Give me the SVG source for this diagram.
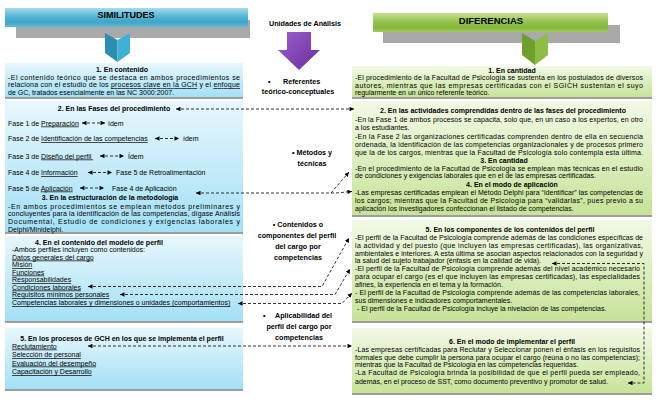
<svg xmlns="http://www.w3.org/2000/svg" width="657" height="402" viewBox="0 0 657 402">
<style>
.t{font-family:"Liberation Sans",Arial,sans-serif;font-size:7px;fill:#000}
.b{font-weight:bold}
.m{text-anchor:middle}
.u{text-decoration:underline}
.lb{font-size:7.2px}
.c{fill:none;stroke:#000;stroke-width:0.8;stroke-dasharray:3 2}
.sh{fill:#9d9d9d}
.bl{fill:url(#gBlue)}
.gr{fill:url(#gGreen)}
</style>
<defs>
<linearGradient id="gBlue" x1="0" y1="0" x2="0" y2="1"><stop offset="0" stop-color="#e8f7fc"/><stop offset="1" stop-color="#a3e0f6"/></linearGradient>
<linearGradient id="gGreen" x1="0" y1="0" x2="0" y2="1"><stop offset="0" stop-color="#f2f9e6"/><stop offset="1" stop-color="#c7e398"/></linearGradient>
<linearGradient id="gHdrB" x1="0" y1="0" x2="0" y2="1"><stop offset="0" stop-color="#a6dcec"/><stop offset="0.45" stop-color="#56b5d4"/><stop offset="0.75" stop-color="#40a5c7"/><stop offset="1" stop-color="#62bbd7"/></linearGradient>
<linearGradient id="gHdrG" x1="0" y1="0" x2="0" y2="1"><stop offset="0" stop-color="#c6e092"/><stop offset="0.45" stop-color="#96c44e"/><stop offset="0.75" stop-color="#86b73c"/><stop offset="1" stop-color="#a3cb60"/></linearGradient>
<linearGradient id="gPur" x1="0" y1="0" x2="1" y2="1"><stop offset="0" stop-color="#9c5ed0"/><stop offset="1" stop-color="#6a2d98"/></linearGradient>
<marker id="ah" viewBox="0 0 10 10" refX="10" refY="5" markerWidth="5" markerHeight="4.5" markerUnits="userSpaceOnUse" orient="auto-start-reverse"><path d="M0,0 L10,5 L0,10 z" fill="#000" stroke="none"/></marker>
</defs>
<rect width="657" height="402" fill="#fff"/>

<g id="sim-header">
<rect x="16" y="20" width="234" height="18" fill="#a9a9a9"/>
<rect x="5" y="8" width="243" height="19" fill="url(#gHdrB)"/>
<text class="t b m" x="126" y="18.3" style="font-size:9px">SIMILITUDES</text>
<polygon points="105,33 117.5,40 117.5,62 105,53" fill="#2b8db0"/>
<polygon points="117.5,40 130,33 130,53 117.5,62" fill="#3fb0d6"/>
</g>

<g id="dif-header">
<rect x="383" y="25" width="237" height="18" fill="#a9a9a9"/>
<rect x="373" y="13" width="235" height="19" fill="url(#gHdrG)"/>
<text class="t b m" x="491" y="23.5" style="font-size:9.5px">DIFERENCIAS</text>
<polygon points="522,33 535,41 535,65 522,55" fill="#6f9f2d"/>
<polygon points="535,41 548,33 548,55 535,65" fill="#8cbd45"/>
</g>

<g id="unidades">
<text class="t b m" x="305" y="25.6" style="font-size:7.2px">Unidades de Análisis</text>
<polygon points="287,32 311,32 311,50 320,50 299,70 278,50 287,50" fill="url(#gPur)"/>
</g>

<g id="label-referentes">
<text class="t b lb" x="268" y="83.5">•</text>
<text class="t b lb" x="283" y="83.5">Referentes</text>
<text class="t b m lb" x="298" y="93.5">teórico-conceptuales</text>
</g>
<g id="label-metodos">
<text class="t b m lb" x="312" y="155">• Métodos y</text>
<text class="t b m lb" x="312" y="165.5">técnicas</text>
</g>
<g id="label-contenidos">
<text class="t b m lb" x="298" y="227">• Contenidos o</text>
<text class="t b m lb" x="297" y="238">componentes del perfil</text>
<text class="t b m lb" x="298" y="249">del cargo por</text>
<text class="t b m lb" x="298" y="260">competencias</text>
</g>
<g id="label-aplicabilidad">
<text class="t b lb" x="263" y="317.5">•</text>
<text class="t b lb" x="275" y="317.5">Aplicabilidad del</text>
<text class="t b m lb" x="299" y="328.5">perfil del cargo por</text>
<text class="t b m lb" x="299" y="339.5">competencias</text>
</g>

<g id="box-l1">
<rect x="5" y="63" width="238" height="34" class="bl"/>
<rect x="5" y="97" width="238" height="2" class="sh"/>
<text class="t b m" x="122" y="71.5">1. En contenido</text>
<text class="t" x="8" y="79.5" textLength="232" lengthAdjust="spacing">-El contenido teórico que se destaca en ambos procedimientos se</text>
<text class="t" x="8" y="87" textLength="232" lengthAdjust="spacing">relaciona con el estudio de los <tspan class="u">procesos clave en la GCH</tspan> y el <tspan class="u">enfoque</tspan></text>
<text class="t" x="8" y="94.5">de GC, tratados esencialmente en las NC 3000:2007.</text>
</g>

<g id="box-l2">
<rect x="5" y="101" width="238" height="131" class="bl"/>
<rect x="5" y="232" width="238" height="2" class="sh"/>
<text class="t b m" x="114" y="111">2. En las Fases del procedimiento</text>
<text class="t" x="8" y="125.5">Fase 1 de <tspan class="u">Preparación</tspan></text>
<text class="t" x="108" y="125.5">ídem</text>
<text class="t" x="8" y="141">Fase 2 de <tspan class="u">Identificación de las competencias</tspan></text>
<text class="t" x="183" y="141">ídem</text>
<text class="t" x="8" y="158.5" style="white-space:pre">Fase 3 de <tspan class="u">Diseño del perfil </tspan></text>
<text class="t" x="128" y="158.5">Ídem</text>
<text class="t" x="8" y="175">Fase 4 de <tspan class="u">Información</tspan></text>
<text class="t" x="116" y="175">Fase 5 de Retroalimentación</text>
<text class="t" x="8" y="190.5">Fase 5 de <tspan class="u">Aplicación</tspan></text>
<text class="t" x="112" y="190.5">Fase 4 de Aplicación</text>
<text class="t b m" x="110" y="199.5">3. En la estructuración de la metodología</text>
<text class="t" x="8" y="208.5" textLength="232" lengthAdjust="spacing">-En ambos procedimientos se emplean métodos preliminares y</text>
<text class="t" x="8" y="216" textLength="232" lengthAdjust="spacing">concluyentes para la identificación de las competencias, dígase Análisis</text>
<text class="t" x="8" y="224" textLength="232" lengthAdjust="spacing">Documental, Estudio de condiciones y exigencias laborales y</text>
<text class="t" x="8" y="231.5">Delphi/Minidelphi.</text>
</g>

<g id="box-l3">
<rect x="5" y="236" width="238" height="85" class="bl"/>
<rect x="5" y="321" width="238" height="2" class="sh"/>
<text class="t b m" x="99" y="244.5">4. En el contenido del modelo de perfil</text>
<text class="t" x="12" y="252">-Ambos perfiles incluyen como contenidos:</text>
<text class="t u" x="12" y="259.5">Datos generales del cargo</text>
<text class="t u" x="12" y="267">Misión</text>
<text class="t u" x="12" y="274.5">Funciones</text>
<text class="t u" x="12" y="282">Responsabilidades</text>
<text class="t u" x="12" y="289.5">Condiciones laborales</text>
<text class="t u" x="12" y="297">Requisitos mínimos personales</text>
<text class="t u" x="12" y="305">Competencias laborales y dimensiones o unidades (comportamientos)</text>
</g>

<g id="box-l4">
<rect x="5" y="328" width="238" height="61" class="bl"/>
<rect x="5" y="389" width="238" height="2" class="sh"/>
<text class="t b m" x="122" y="340.5">5. En los procesos de GCH en los que se implementa el perfil</text>
<text class="t u" x="12" y="348.5">Reclutamiento</text>
<text class="t u" x="12" y="357">Selección de personal</text>
<text class="t u" x="12" y="365.5">Evaluación del desempeño</text>
<text class="t u" x="12" y="374">Capacitación y Desarrollo</text>
</g>

<g id="box-r1">
<rect x="352" y="66" width="300" height="31" class="gr"/>
<rect x="352" y="97" width="300" height="2" class="sh"/>
<text class="t b m" x="512" y="73">1. En cantidad</text>
<text class="t" x="355" y="80" textLength="288" lengthAdjust="spacing">-El procedimiento de la Facultad de Psicología se sustenta en los postulados de diversos</text>
<text class="t" x="355" y="87.5" textLength="288" lengthAdjust="spacing">autores, mientras que las empresas certificadas con el SGICH sustentan el suyo</text>
<text class="t" x="355" y="94.5">regularmente en un único referente teórico.</text>
</g>

<g id="box-r2">
<rect x="352" y="101" width="300" height="114" class="gr"/>
<rect x="352" y="215" width="300" height="2" class="sh"/>
<text class="t b m" x="503" y="112.5">2. En las actividades comprendidas dentro de las fases del procedimiento</text>
<text class="t" x="355" y="121.5" textLength="288" lengthAdjust="spacing">-En la Fase 1 de ambos procesos se capacita, solo que, en un caso a los expertos, en otro</text>
<text class="t" x="355" y="129.5">a los estudiantes.</text>
<text class="t" x="355" y="138.5" textLength="288" lengthAdjust="spacing">-En la Fase 2 las organizaciones certificadas comprenden dentro de ella en secuencia</text>
<text class="t" x="355" y="146.5" textLength="288" lengthAdjust="spacing">ordenada, la identificación de las competencias organizacionales y de procesos primero</text>
<text class="t" x="355" y="154.5" textLength="288" lengthAdjust="spacing">que la de los cargos, mientras que la Facultad de Psicología solo contempla esta última.</text>
<text class="t b m" x="504" y="162.5">3. En cantidad</text>
<text class="t" x="355" y="170.5" textLength="288" lengthAdjust="spacing">-En el procedimiento de la Facultad de Psicología se emplean más técnicas en el estudio</text>
<text class="t" x="355" y="178">de condiciones y exigencias laborales que en el de las empresas certificadas.</text>
<text class="t b m" x="512" y="186.5">4. En el modo de aplicación</text>
<text class="t" x="355" y="195" textLength="288" lengthAdjust="spacing">-Las empresas certificadas emplean el Método Delphi para “identificar” las competencias de</text>
<text class="t" x="355" y="203" textLength="288" lengthAdjust="spacing">los cargos; mientras que la Facultad de Psicología para “validarlas”, pues previo a su</text>
<text class="t" x="355" y="210.5">aplicación los investigadores confeccionan el listado de competencias.</text>
</g>

<g id="box-r3">
<rect x="352" y="220" width="300" height="101" class="gr"/>
<rect x="352" y="321" width="300" height="2" class="sh"/>
<text class="t b m" x="510" y="232">5. En los componentes de los contenidos del perfil</text>
<text class="t" x="355" y="240" textLength="288" lengthAdjust="spacing">-El perfil de la Facultad de Psicología comprende además de las condiciones específicas de</text>
<text class="t" x="355" y="247.5" textLength="288" lengthAdjust="spacing">la actividad y del puesto (que incluyen las empresas certificadas), las organizativas,</text>
<text class="t" x="355" y="255.5" textLength="288" lengthAdjust="spacing">ambientales e interiores. A esta última se asocian aspectos relacionados con la seguridad y</text>
<text class="t" x="355" y="263">la salud del sujeto trabajador (énfasis en la calidad de vida).</text>
<text class="t" x="355" y="271" textLength="285" lengthAdjust="spacing">-El perfil de la Facultad de Psicología comprende además del nivel académico necesario</text>
<text class="t" x="355" y="279" textLength="285" lengthAdjust="spacing">para ocupar el cargo (es el que incluyen las empresas certificadas), las especialidades</text>
<text class="t" x="355" y="286.5">afines, la experiencia en el tema y la formación.</text>
<text class="t" x="355" y="295" textLength="285" lengthAdjust="spacing">- El perfil de la Facultad de Psicología comprende además de las competencias laborales,</text>
<text class="t" x="355" y="303">sus dimensiones e indicadores comportamentales.</text>
<text class="t" x="357" y="311">- El perfil de la Facultad de Psicología incluye la nivelación de las competencias.</text>
</g>

<g id="box-r4">
<rect x="352" y="328" width="300" height="65" class="gr"/>
<rect x="352" y="393" width="300" height="2" class="sh"/>
<text class="t b m" x="512" y="343.5">6. En el modo de implementar el perfil</text>
<text class="t" x="355" y="351.5" textLength="285" lengthAdjust="spacing">-Las empresas certificadas para Reclutar y Seleccionar ponen el énfasis en los requisitos</text>
<text class="t" x="355" y="359.5" textLength="285" lengthAdjust="spacing">formales que debe cumplir la persona para ocupar el cargo (reúna o no las competencias);</text>
<text class="t" x="355" y="367">mientras que la Facultad de Psicología en las competencias requeridas.</text>
<text class="t" x="355" y="375" textLength="285" lengthAdjust="spacing">-La Facultad de Psicología brinda la posibilidad de que el perfil pueda ser empleado,</text>
<text class="t" x="355" y="384">además, en el proceso de SST, como documento preventivo y promotor de salud.</text>
</g>

<g id="connectors" class="c">
<path d="M82,123 H105" marker-start="url(#ah)" marker-end="url(#ah)"/>
<path d="M155,138.5 H179" marker-start="url(#ah)" marker-end="url(#ah)"/>
<path d="M100,156 H124" marker-start="url(#ah)" marker-end="url(#ah)"/>
<path d="M88,172.5 H112" marker-start="url(#ah)" marker-end="url(#ah)"/>
<path d="M80,188 H104" marker-start="url(#ah)" marker-end="url(#ah)"/>
<path d="M176,109 H354" marker-start="url(#ah)" marker-end="url(#ah)"/>
<path d="M196,193 H336" marker-start="url(#ah)"/>
<path d="M331,193 L349,172" marker-end="url(#ah)"/>
<path d="M336,193 L352,191.5" marker-end="url(#ah)"/>
<path d="M88,286.5 H322 L349,238" marker-start="url(#ah)" marker-end="url(#ah)"/>
<path d="M120,294.5 H335 L350,269" marker-start="url(#ah)" marker-end="url(#ah)"/>
<path d="M238,303.5 H342 L352,293" marker-start="url(#ah)" marker-end="url(#ah)"/>
<path d="M88,346 H352" marker-start="url(#ah)" marker-end="url(#ah)"/>
<path d="M552,263.5 H644 V383 H628" marker-start="url(#ah)" marker-end="url(#ah)"/>
</g>
</svg>
